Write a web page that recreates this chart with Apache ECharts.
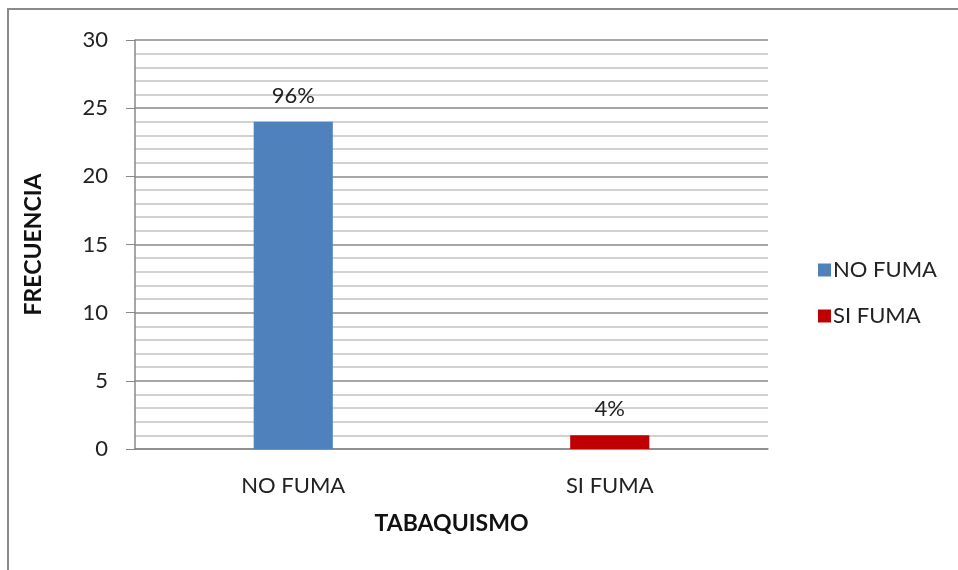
<!DOCTYPE html>
<html>
<head>
<meta charset="utf-8">
<script src="https://cdn.jsdelivr.net/npm/echarts@6/dist/echarts.min.js"></script>
<style>
html,body{margin:0;padding:0;background:#fff;}
#chart{width:958px;height:570px;}
</style>
</head>
<body>
<div id="chart"></div>
<script>
var categories = ['NO FUMA', 'SI FUMA'];
var seriesNames = ['NO FUMA', 'SI FUMA'];
var noFuma = [24, '-'];
var siFuma = ['-', 1];
var pctLabels = ['96%', '4%'];
var colors = ['#4F81BD', '#C00000'];
var yTicks = [0, 5, 10, 15, 20, 25, 30];

var FONT = 'Lato, "Open Sans", sans-serif';
var chart = echarts.init(document.getElementById('chart'));
function mk(name, data, color) {
  return {
    name: name, type: 'bar', stack: 'a', data: data, barWidth: '25%',
    itemStyle: { color: color },
    label: {
      show: true, position: 'top', distance: 15,
      fontFamily: FONT, fontSize: 22, color: '#222',
      formatter: function (p) { return pctLabels[p.dataIndex]; }
    }
  };
}
chart.setOption({
  animation: false,
  graphic: [{
    type: 'rect', shape: { x: 8, y: 9, width: 1000, height: 600 },
    style: { fill: 'none', stroke: '#8a8a8a', lineWidth: 2 }, silent: true
  }],
  grid: { left: 135, right: 190, top: 40, bottom: 121 },
  legend: {
    orient: 'vertical', left: 813, top: 254, itemGap: 24, itemGap2: 0,
    itemWidth: 13, itemHeight: 13, icon: 'rect',
    data: seriesNames,
    textStyle: { fontFamily: FONT, fontSize: 22, color: '#222', padding: [0, 0, 0, -3] }
  },
  xAxis: {
    type: 'category', data: categories,
    axisLine: { lineStyle: { color: '#888', width: 1.5 } },
    axisTick: { show: false },
    axisLabel: { fontFamily: FONT, fontSize: 22, color: '#222', margin: 26 },
    name: 'TABAQUISMO', nameLocation: 'middle', nameGap: 63,
    nameTextStyle: { fontFamily: FONT, fontSize: 23, fontWeight: 'bold', color: '#111' }
  },
  yAxis: {
    type: 'value', min: yTicks[0], max: yTicks[yTicks.length - 1], interval: 5,
    axisLine: { show: true, lineStyle: { color: '#888', width: 1.5 } },
    axisTick: { show: true, length: 9, lineStyle: { color: '#888' } },
    axisLabel: { fontFamily: FONT, fontSize: 22, color: '#222', margin: 27 },
    splitLine: { lineStyle: { color: '#888', width: 1.5 } },
    minorTick: { show: false, splitNumber: 5 },
    minorSplitLine: { show: true, lineStyle: { color: '#c4c4c4', width: 1.5 } },
    name: 'FRECUENCIA', nameLocation: 'middle', nameGap: 90,
    nameTextStyle: { fontFamily: FONT, fontSize: 23, fontWeight: 'bold', color: '#111' }
  },
  series: [mk(seriesNames[0], noFuma, colors[0]), mk(seriesNames[1], siFuma, colors[1])]
});
</script>
</body>
</html>
